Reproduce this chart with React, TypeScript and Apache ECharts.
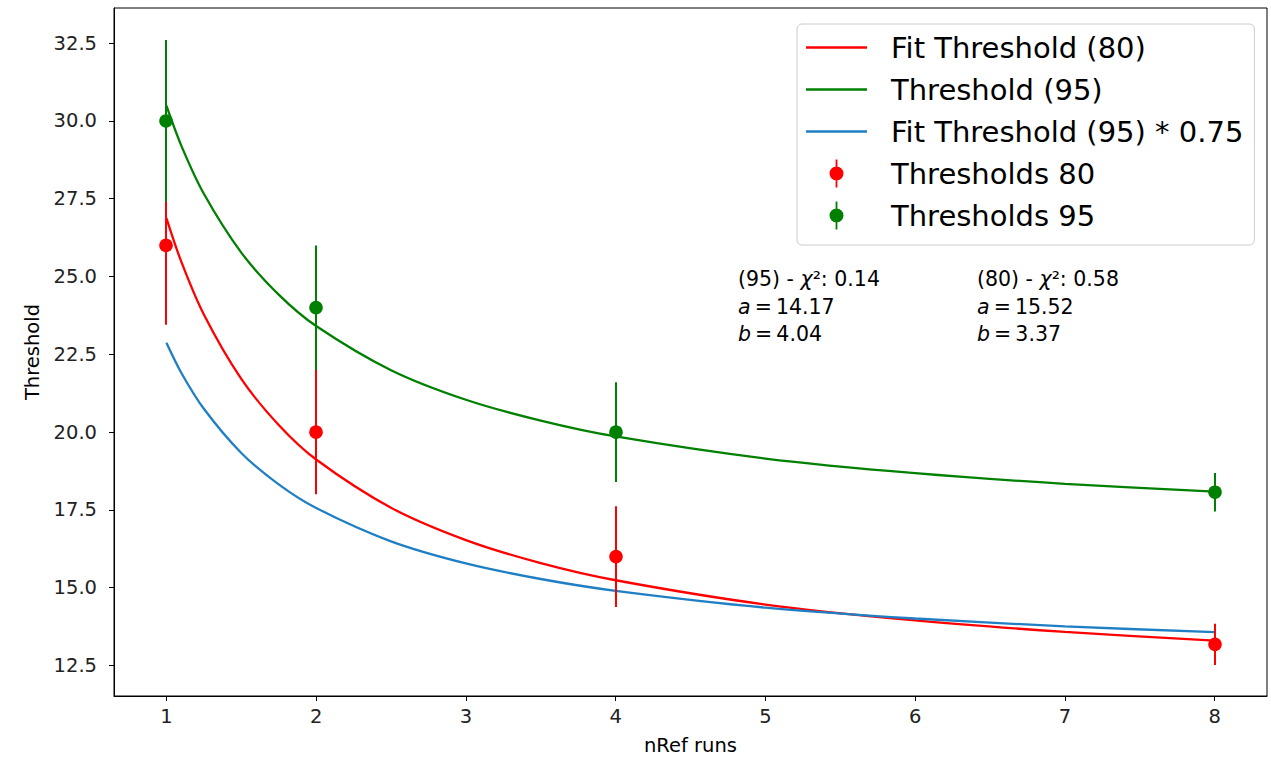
import React, { useEffect, useRef } from "react";
import * as echarts from "echarts";

// Fit curves
const fitX = [1, 1.1, 1.25, 1.5, 1.75, 2, 2.5, 3, 3.5, 4, 5, 6, 7, 8];
const fit80 = [26.88, 25.47, 23.78, 21.71, 20.23, 19.12, 17.57, 16.53, 15.79, 15.24, 14.46, 13.95, 13.58, 13.3];
const fit95 = [30.49, 29.2, 27.66, 25.77, 24.42, 23.41, 21.99, 21.04, 20.37, 19.86, 19.15, 18.68, 18.34, 18.09];
const fit95x075 = [22.87, 21.9, 20.75, 19.33, 18.32, 17.56, 16.49, 15.78, 15.28, 14.9, 14.36, 14.01, 13.76, 13.57];

// Measured thresholds with errors
const pointX = [1, 2, 4, 8];
const thr80 = [26.0, 20.0, 16.0, 13.18];
const err80 = [2.55, 2.0, 1.62, 0.66];
const thr95 = [30.0, 24.0, 20.0, 18.07];
const err95 = [2.6, 2.0, 1.6, 0.62];

const xTicks = [1, 2, 3, 4, 5, 6, 7, 8];
const yTicks = [12.5, 15.0, 17.5, 20.0, 22.5, 25.0, 27.5, 30.0, 32.5];

const RED = "#ff0000";
const GREEN = "#008000";
const BLUE = "#1f7fc4";
const FONT = "DejaVu Sans";

const lineIcon = "path://M0,0H61V2.4H0Z";
const errIcon =
  "path://M6.1,0H7.9V7H6.1Z M6.1,21H7.9V28H6.1Z M14,14A7,7 0 1 1 0,14A7,7 0 1 1 14,14Z";

const errRender = (color: string) => (params: any, api: any) => {
  const x = api.value(0);
  const y = api.value(1);
  const e = api.value(2);
  const top = api.coord([x, y + e]);
  const bot = api.coord([x, y - e]);
  const c = api.coord([x, y]);
  const px = Math.round(c[0]);
  return {
    type: "group",
    children: [
      {
        type: "line",
        shape: { x1: px, y1: top[1], x2: px, y2: bot[1] },
        style: { stroke: color, lineWidth: 2 },
      },
      {
        type: "circle",
        shape: { cx: px, cy: c[1], r: 6.8 },
        style: { fill: color },
      },
    ],
  };
};

const annRich = {
  i: { fontFamily: FONT, fontSize: 20.5, fontStyle: "italic", fill: "#000" },
};

const annText = (x: number, y: number, text: string) => ({
  type: "text",
  x,
  y,
  style: {
    text,
    fontFamily: FONT,
    fontSize: 20.5,
    fill: "#000",
    verticalAlign: "middle",
    rich: annRich,
  },
});

export default function App() {
  const ref = useRef<HTMLDivElement>(null);
  useEffect(() => {
    document.body.style.margin = "0";
    const chart = echarts.init(ref.current!, null, { renderer: "svg" });
    const lineSeries = (name: string, ys: number[], color: string) => ({
      name,
      type: "line",
      data: fitX.map((x, i) => [x, ys[i]]),
      showSymbol: false,
      symbol: "none",
      smooth: 0.3,
      lineStyle: { color, width: 2.3 },
      itemStyle: { color },
      z: 2,
    });
    const errSeries = (name: string, ys: number[], es: number[], color: string, z: number) => ({
      name,
      type: "custom",
      renderItem: errRender(color),
      data: pointX.map((x, i) => [x, ys[i], es[i]]),
      encode: { x: 0, y: 1 },
      itemStyle: { color },
      z,
    });
    chart.setOption({
      animation: false,
      backgroundColor: "#fff",
      textStyle: { fontFamily: FONT },
      grid: {
        left: 114,
        top: 8,
        width: 1153,
        height: 688,
        show: true,
        borderColor: "#000",
        borderWidth: 1,
        containLabel: false,
        outerBoundsMode: "none",
      },
      xAxis: {
        type: "value",
        min: 0.65,
        max: 8.35,
        name: "nRef runs",
        nameLocation: "middle",
        nameGap: 39,
        nameTextStyle: { fontFamily: FONT, fontSize: 19.5, color: "#000" },
        splitLine: { show: false },
        axisLine: { lineStyle: { color: "#000", width: 1 } },
        axisTick: { customValues: xTicks, length: 5, lineStyle: { color: "#000" } },
        axisLabel: {
          customValues: xTicks,
          margin: 10,
          fontFamily: FONT,
          fontSize: 19.5,
          color: "#222",
          formatter: (v: number) => String(v),
        },
      },
      yAxis: {
        type: "value",
        min: 11.52,
        max: 33.63,
        name: "Threshold",
        nameLocation: "middle",
        nameRotate: 90,
        nameGap: 72,
        nameTextStyle: { fontFamily: FONT, fontSize: 19.5, color: "#000" },
        splitLine: { show: false },
        axisLine: { show: true, lineStyle: { color: "#000", width: 1 } },
        axisTick: { show: true, customValues: yTicks, length: 5, lineStyle: { color: "#000" } },
        axisLabel: {
          customValues: yTicks,
          margin: 17,
          fontFamily: FONT,
          fontSize: 19.5,
          color: "#222",
          formatter: (v: number) => v.toFixed(1),
        },
      },
      legend: {
        show: true,
        orient: "vertical",
        left: 797,
        top: 24,
        padding: [9, 11, 15, 9],
        itemWidth: 61,
        itemHeight: 28,
        itemGap: 13,
        backgroundColor: "rgba(255,255,255,0.85)",
        borderColor: "#cccccc",
        borderWidth: 1,
        borderRadius: 5,
        textStyle: { fontFamily: FONT, fontSize: 29, color: "#000", padding: [0, 0, 0, 19] },
        data: [
          { name: "Fit Threshold (80)", icon: lineIcon },
          { name: "Threshold (95)", icon: lineIcon },
          { name: "Fit Threshold (95) * 0.75", icon: lineIcon },
          { name: "Thresholds 80", icon: errIcon },
          { name: "Thresholds 95", icon: errIcon },
        ],
      },
      graphic: [
        annText(738, 279, "(95) - {i|χ}²: 0.14"),
        annText(738, 307, "{i|a}\u2009=\u200914.17"),
        annText(738, 334, "{i|b}\u2009=\u20094.04"),
        annText(977, 279, "(80) - {i|χ}²: 0.58"),
        annText(977, 307, "{i|a}\u2009=\u200915.52"),
        annText(977, 334, "{i|b}\u2009=\u20093.37"),
      ],
      series: [
        lineSeries("Fit Threshold (80)", fit80, RED),
        lineSeries("Threshold (95)", fit95, GREEN),
        lineSeries("Fit Threshold (95) * 0.75", fit95x075, BLUE),
        errSeries("Thresholds 80", thr80, err80, RED, 3),
        errSeries("Thresholds 95", thr95, err95, GREEN, 4),
      ],
    });
    return () => chart.dispose();
  }, []);
  return <div ref={ref} style={{ width: 1271, height: 759 }} />;
}
